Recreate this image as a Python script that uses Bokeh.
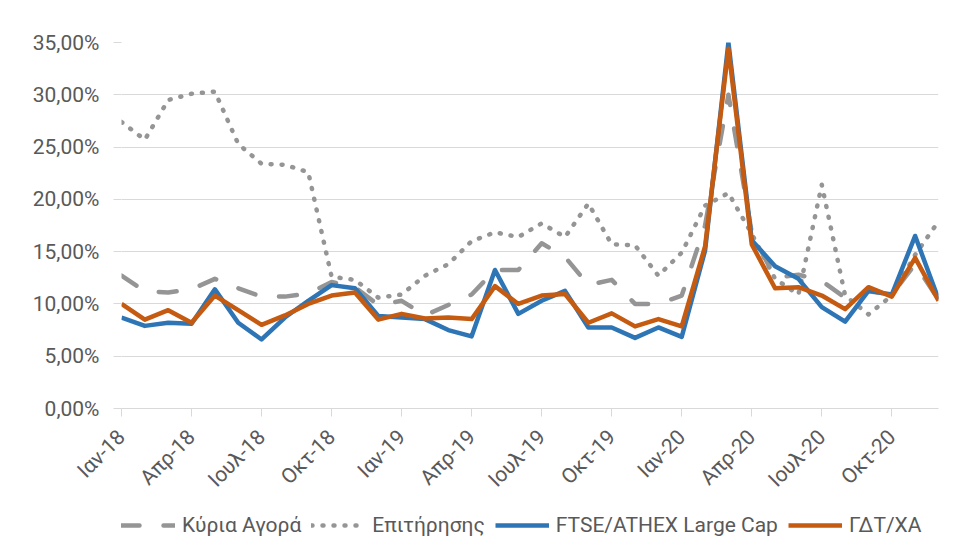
from bokeh.plotting import figure
from bokeh.layouts import column
from bokeh.models import FixedTicker, Legend, LegendItem, Range1d
from bokeh.embed import file_html
from bokeh.resources import INLINE

# ---- data ----
months = ["Ιαν-18", "Φεβ-18", "Μαρ-18", "Απρ-18", "Μαϊ-18", "Ιουν-18",
          "Ιουλ-18", "Αυγ-18", "Σεπ-18", "Οκτ-18", "Νοε-18", "Δεκ-18",
          "Ιαν-19", "Φεβ-19", "Μαρ-19", "Απρ-19", "Μαϊ-19", "Ιουν-19",
          "Ιουλ-19", "Αυγ-19", "Σεπ-19", "Οκτ-19", "Νοε-19", "Δεκ-19",
          "Ιαν-20", "Φεβ-20", "Μαρ-20", "Απρ-20", "Μαϊ-20", "Ιουν-20",
          "Ιουλ-20", "Αυγ-20", "Σεπ-20", "Οκτ-20", "Νοε-20", "Δεκ-20"]

kyria_agora = [12.7, 11.2, 11.1, 11.4, 12.4, 11.5, 10.7, 10.7, 11.0, 12.1,
               11.6, 9.9, 10.3, 8.9, 9.9, 10.9, 13.25, 13.25, 15.8, 14.5,
               11.8, 12.3, 10.0, 10.0, 10.8, 17.5, 30.0, 16.8, 12.5, 12.8,
               12.2, 10.6, 11.2, 10.9, 13.8, 10.4]

epitirisis = [27.4, 25.7, 29.5, 30.1, 30.3, 25.3, 23.4, 23.3, 22.6, 12.6,
              12.3, 10.6, 10.9, 12.7, 13.8, 16.0, 16.85, 16.4, 17.7, 16.4,
              19.6, 15.7, 15.6, 12.7, 14.9, 19.4, 20.6, 16.7, 12.4, 10.9,
              21.4, 10.8, 9.0, 10.8, 14.7, 17.9]

ftse_large_cap = [8.7, 7.9, 8.2, 8.1, 11.4, 8.2, 6.6, 8.7, 10.3, 11.8,
                  11.5, 8.85, 8.7, 8.55, 7.5, 6.9, 13.25, 9.05, 10.3, 11.25,
                  7.75, 7.75, 6.75, 7.75, 6.85, 15.1, 35.0, 16.1, 13.6, 12.4,
                  9.7, 8.3, 11.25, 10.9, 16.5, 10.45]

gdt_xa = [10.0, 8.5, 9.4, 8.2, 10.8, 9.4, 8.0, 8.9, 10.0, 10.8,
          11.1, 8.5, 9.05, 8.6, 8.7, 8.55, 11.7, 10.0, 10.8, 10.95,
          8.2, 9.1, 7.85, 8.55, 7.85, 15.5, 34.4, 15.7, 11.5, 11.6,
          10.8, 9.5, 11.6, 10.7, 14.4, 10.3]

series_names = ["Κύρια Αγορά", "Επιτήρησης", "FTSE/ATHEX Large Cap", "ΓΔΤ/ΧΑ"]

y_ticks = [0, 5, 10, 15, 20, 25, 30, 35]
y_tick_labels = ["0,00%", "5,00%", "10,00%", "15,00%", "20,00%",
                 "25,00%", "30,00%", "35,00%"]

x_tick_step = 3

# ---- styling ----
FONT = "Roboto"
TXT = "#595959"
GRID = "#d9d9d9"
GREY = "#959595"
BLUE = "#2E75B6"
ORANGE = "#C55A11"

x = list(range(len(months)))
x_ticks = x[::x_tick_step]

series = [kyria_agora, epitirisis, ftse_large_cap, gdt_xa]
styles = [dict(line_color=GREY, line_width=4.5, line_dash="18 24",
               line_cap="round", line_join="round"),
          dict(line_color=GREY, line_width=4.5, line_dash="1 10",
               line_cap="round", line_join="round"),
          dict(line_color=BLUE, line_width=4.5, line_join="round"),
          dict(line_color=ORANGE, line_width=4.5, line_join="round")]

# ---- main chart ----
p = figure(width=979, height=505, output_backend="svg", toolbar_location=None,
           x_range=Range1d(0, len(months) - 1), y_range=Range1d(0, 35),
           min_border_left=121, min_border_right=41, min_border_top=42,
           min_border_bottom=97)
p.outline_line_color = None
p.background_fill_color = "white"
p.border_fill_color = "white"

p.xgrid.grid_line_color = None
p.ygrid.grid_line_color = GRID
p.ygrid.grid_line_width = 1

p.yaxis.ticker = FixedTicker(ticks=y_ticks)
p.yaxis.major_label_overrides = {t: l for t, l in zip(y_ticks, y_tick_labels)}
p.yaxis.axis_line_color = None
p.yaxis.major_tick_line_color = GRID
p.yaxis.major_tick_out = 8
p.yaxis.major_tick_in = 0
p.yaxis.minor_tick_line_color = None
p.yaxis.major_label_standoff = 14
p.yaxis.major_label_text_font = FONT
p.yaxis.major_label_text_font_size = "21px"
p.yaxis.major_label_text_color = TXT

p.xaxis.ticker = FixedTicker(ticks=x_ticks)
p.xaxis.major_label_overrides = {i: months[i] for i in x_ticks}
p.xaxis.axis_line_color = GRID
p.xaxis.axis_line_width = 1
p.xaxis.major_tick_line_color = GRID
p.xaxis.major_tick_out = 8
p.xaxis.major_tick_in = 0
p.xaxis.minor_tick_line_color = None
p.xaxis.major_label_orientation = 0.785398
p.xaxis.major_label_standoff = 17
p.xaxis.major_label_text_font = FONT
p.xaxis.major_label_text_font_size = "21px"
p.xaxis.major_label_text_color = TXT

for ys, st in zip(series, styles):
    p.line(x, ys, **st)

# ---- legend strip (separate figure so nothing is clipped) ----
lg = figure(width=979, height=52, output_backend="svg", toolbar_location=None,
            x_range=Range1d(0, len(months) - 1), y_range=Range1d(100, 101),
            x_axis_location=None, y_axis_location=None,
            min_border_left=121, min_border_right=41, min_border_top=0,
            min_border_bottom=0)
lg.outline_line_color = None
lg.grid.visible = False
lg.background_fill_color = "white"
lg.border_fill_color = "white"

lg_renderers = [lg.line(x, ys, **st) for ys, st in zip(series, styles)]

legend = Legend(items=[LegendItem(label=n, renderers=[r])
                       for n, r in zip(series_names, lg_renderers)],
                orientation="horizontal", location=(0, 20),
                padding=0, margin=0, spacing=10, label_standoff=7,
                glyph_width=54, glyph_height=22,
                border_line_color=None, background_fill_alpha=0,
                label_text_font=FONT, label_text_font_size="21px",
                label_text_color=TXT)
lg.add_layout(legend, "center")

layout = column(p, lg, spacing=0)
open("out.html", "w").write(file_html(layout, INLINE))
